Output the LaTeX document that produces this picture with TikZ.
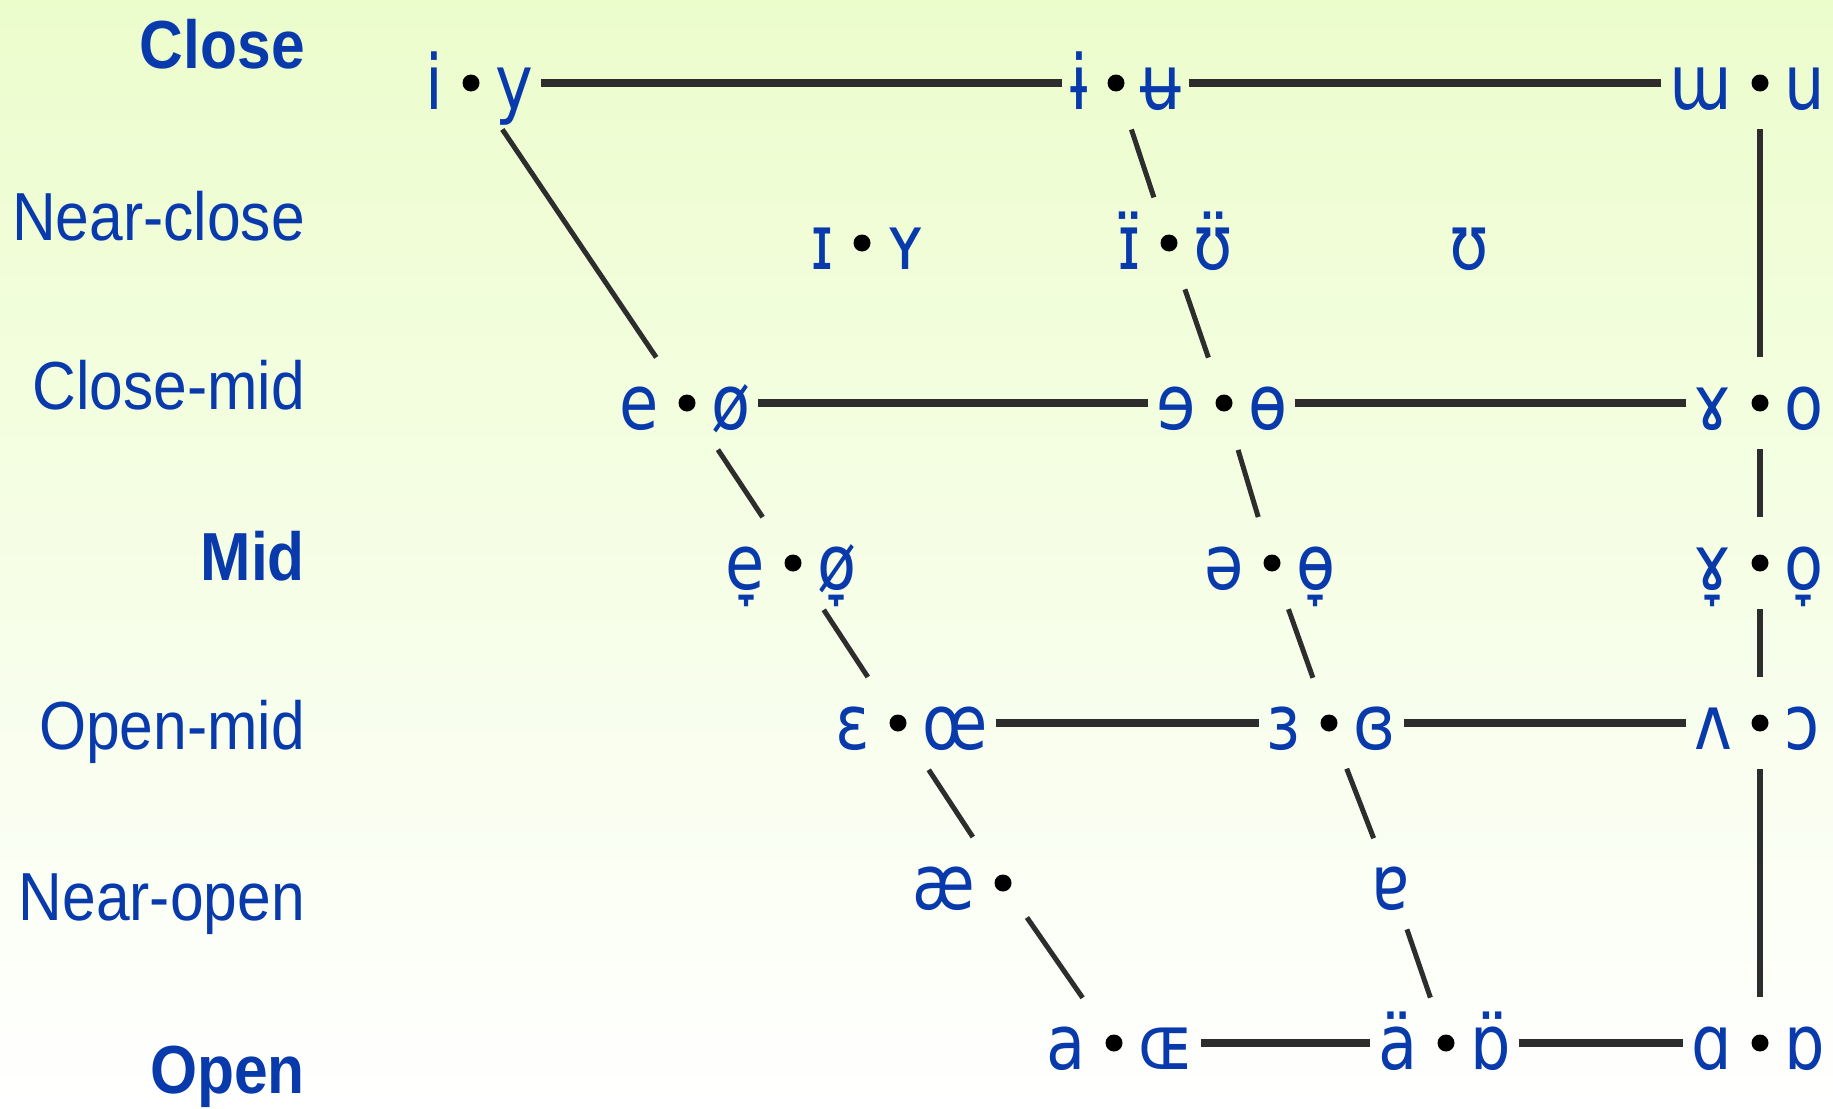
\documentclass[tikz,border=0pt]{standalone}
\usepackage{fontspec}
\usetikzlibrary{calc}
\newfontfamily\vowfont[FakeStretch=0.84]{DejaVu Sans}
\newfontfamily\labfont[FakeStretch=0.89]{Liberation Sans}
\definecolor{ipablue}{RGB}{8,58,172}
\definecolor{bgtop}{RGB}{236,253,204}
\definecolor{bgmid}{RGB}{246,254,232}
\definecolor{linegray}{RGB}{45,45,45}
\newcommand\VowPair[4]{%
  \node[dotn] (#1) at (#2) {};
  \node[vowel, anchor=base east] (#1L) at ($(#1)+(-28,26)$) {#3};
  \node[vowel, anchor=base west] (#1R) at ($(#1)+(24,26)$) {#4};
}
\tikzset{
  vowel/.style={text=ipablue, font=\vowfont\fontsize{76}{84}\selectfont, inner sep=0pt},
  lab/.style={text=ipablue, font=\labfont\fontsize{68}{76}\selectfont, inner sep=0pt, anchor=base east},
  dotn/.style={circle, fill=black, minimum size=17pt, inner sep=0pt},
  hline/.style={draw=linegray, line width=8.5pt, shorten <=8pt, shorten >=8pt},
  fline/.style={draw=linegray, line width=5pt, shorten <=56pt, shorten >=55pt},
  cline/.style={draw=linegray, line width=5pt, shorten <=49pt, shorten >=48pt},
  bline/.style={draw=linegray, line width=6pt, shorten <=46pt, shorten >=46pt},
}
\begin{document}
\begin{tikzpicture}[x=1pt,y=-1pt]
\useasboundingbox (0,0) rectangle (1833,1108);
\shade[top color=bgtop, middle color=bgmid, bottom color=white] (0,0) rectangle (1833,1108);

% row labels
\node[lab] (lC)  at (305,68)   {\bfseries Close};
\node[lab] (lNC) at (305,240)  {Near-close};
\node[lab] (lCM) at (305,409)  {Close-mid};
\node[lab] (lM)  at (305,580)  {\bfseries Mid};
\node[lab] (lOM) at (305,749)  {Open-mid};
\node[lab] (lNO) at (305,920)  {Near-open};
\node[lab] (lO)  at (305,1093) {\bfseries Open};

% close
\VowPair{fC}{471,83}{i}{y}
\VowPair{cC}{1116,83}{ɨ}{ʉ}
\VowPair{bC}{1760,83}{ɯ}{u}
% near-close
\VowPair{nNC}{862,243}{ɪ}{ʏ}
\VowPair{cNC}{1169,243}{ɪ̈}{ʊ̈}
\node[vowel, anchor=base] (bNC) at (1469,269) {ʊ};
% close-mid
\VowPair{fCM}{687,403}{e}{ø}
\VowPair{cCM}{1224,403}{ɘ}{ɵ}
\VowPair{bCM}{1760,403}{ɤ}{o}
% mid
\VowPair{fM}{793,563}{e̞}{ø̞}
\VowPair{cM}{1272,563}{ə}{ɵ̞}
\VowPair{bM}{1760,563}{ɤ̞}{o̞}
% open-mid
\VowPair{fOM}{898,723}{ɛ}{œ}
\VowPair{cOM}{1329,723}{ɜ}{ɞ}
\VowPair{bOM}{1760,723}{ʌ}{ɔ}
% near-open
\node[dotn] (fNO) at (1003,883) {};
\node[vowel, anchor=base east] (fNOL) at ($(fNO)+(-28,26)$) {æ};
\coordinate (cNO) at (1391,883);
\node[vowel, anchor=base] (cNOv) at ($(cNO)+(0,26)$) {ɐ};
% open
\VowPair{fO}{1114,1043}{a}{ɶ}
\VowPair{cO}{1446,1043}{ä}{ɒ̈}
\VowPair{bO}{1760,1043}{ɑ}{ɒ}

% horizontal lines
\draw[hline] (fCR.east |- fC) -- (cCL.west |- cC);
\draw[hline] (cCR.east |- cC) -- (bCL.west |- bC);
\draw[hline] (fCMR.east |- fCM) -- (cCML.west |- cCM);
\draw[hline] (cCMR.east |- cCM) -- (bCML.west |- bCM);
\draw[hline] (fOMR.east |- fOM) -- (cOML.west |- cOM);
\draw[hline] (cOMR.east |- cOM) -- (bOML.west |- bOM);
\draw[hline] (fOR.east |- fO) -- (cOL.west |- cO);
\draw[hline] (cOR.east |- cO) -- (bOL.west |- bO);

% front line
\draw[fline] (fC.center) -- (fCM.center);
\draw[fline] (fCM.center) -- (fM.center);
\draw[fline] (fM.center) -- (fOM.center);
\draw[fline] (fOM.center) -- (fNO.center);
\draw[fline, shorten <=42pt] (fNO.center) -- (fO.center);
% central line
\draw[cline] (cC.center) -- (cNC.center);
\draw[cline] (cNC.center) -- (cCM.center);
\draw[cline] (cCM.center) -- (cM.center);
\draw[cline] (cM.center) -- (cOM.center);
\draw[cline] (cOM.center) -- (cNO);
\draw[cline] (cNO) -- (cO.center);
% back line
\draw[bline] (bC.center) -- (bCM.center);
\draw[bline] (bCM.center) -- (bM.center);
\draw[bline] (bM.center) -- (bOM.center);
\draw[bline] (bOM.center) -- (bO.center);
\end{tikzpicture}
\end{document}
